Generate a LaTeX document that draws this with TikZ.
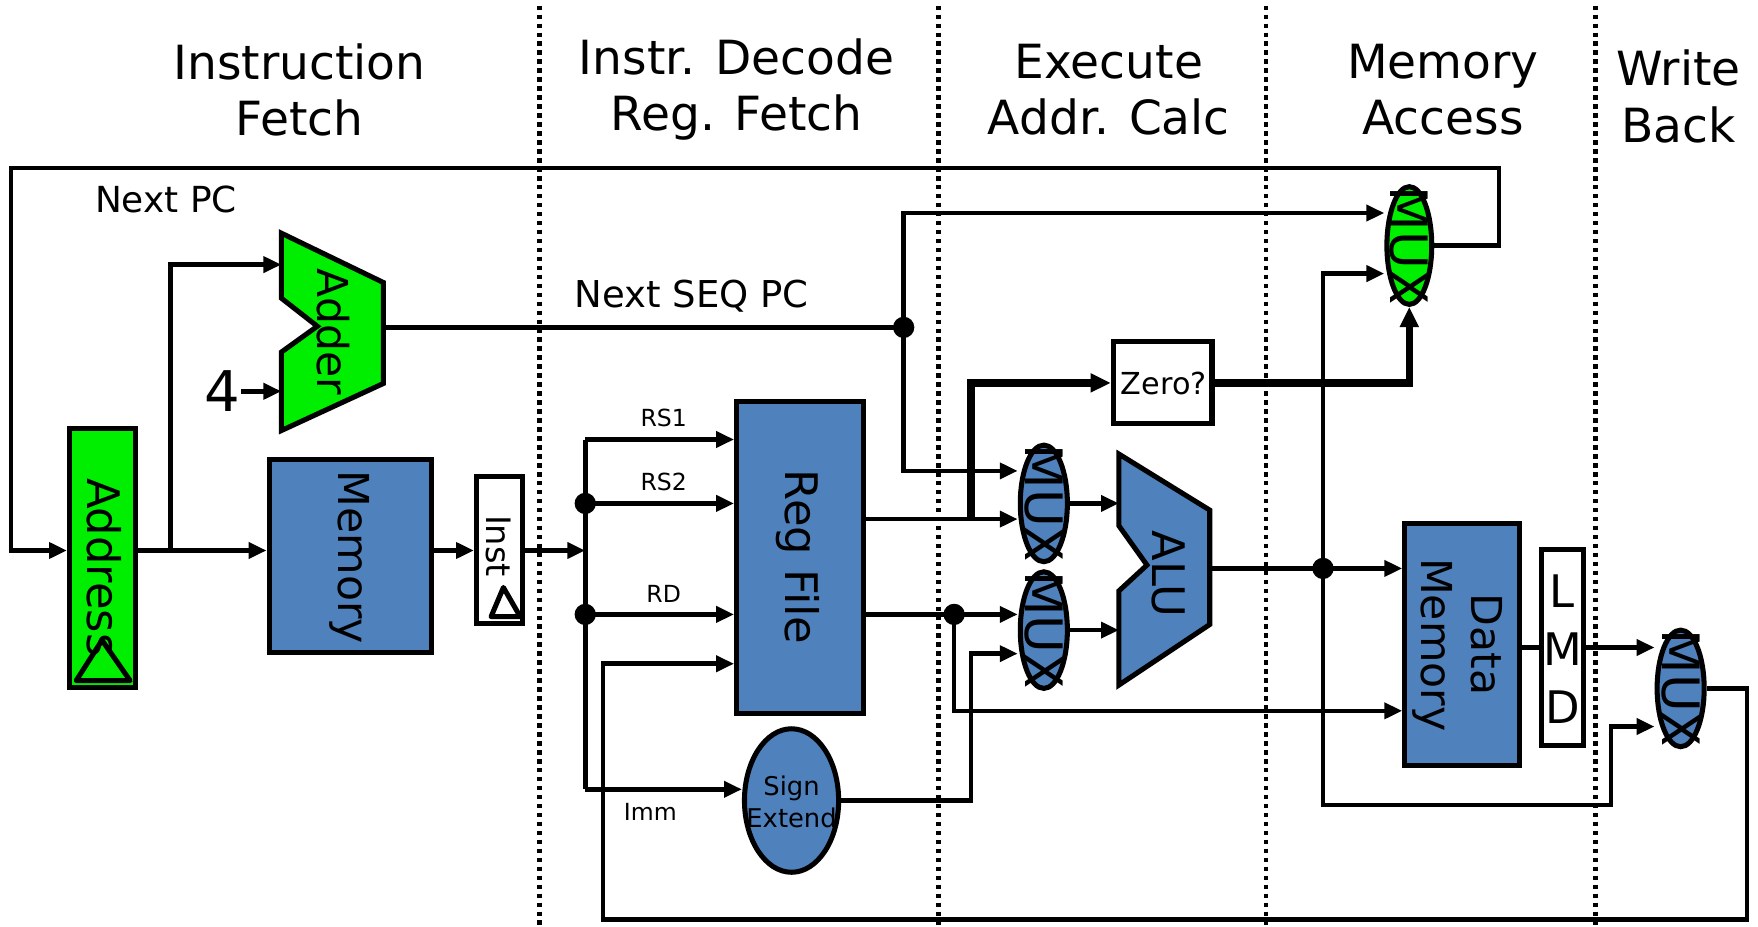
\documentclass[tikz,border=0pt]{standalone}
\usepackage{fontspec}
\setmainfont{DejaVu Sans}
\usetikzlibrary{arrows.meta,positioning,calc,shapes.geometric}
\definecolor{blockblue}{RGB}{79,129,189}
\definecolor{blockgreen}{RGB}{0,238,0}
\newcommand{\setfs}[2]{\fontsize{#1}{#2}\selectfont}

\begin{document}
\begin{tikzpicture}[x=1pt, y=-1pt,
    box/.style={draw, line width=4.5pt, fill=blockblue, inner sep=0pt},
    gbox/.style={box, fill=blockgreen},
    wbox/.style={box, fill=white},
    mux/.style={ellipse, draw, line width=4.5pt, fill=blockblue, minimum width=42pt, minimum height=104pt, inner sep=0pt},
    bshape/.style={draw, line width=4.5pt, fill=blockblue, line join=miter},
    vlabel/.style={rotate=-90, inner sep=0pt, align=center},
    wire/.style={line width=4pt},
    arr/.style={wire, -{Triangle[length=16pt, width=14pt]}},
    tarr/.style={line width=6.5pt, -{Triangle[length=18pt, width=16pt]}},
    jdot/.style={circle, fill, inner sep=0pt, minimum size=19pt},
    stage/.style={font=\setfs{42}{50}, align=center},
    sig/.style={font=\setfs{21}{24}},
    stagesep/.style={line width=4pt, dash pattern=on 4pt off 4pt},
]
    \useasboundingbox (0, 0) rectangle (1568, 826);

    % Stage separators
    \foreach \sx in {481, 837, 1129, 1423}
        \draw[stagesep] (\sx, 5) -- (\sx, 826);

    % Stage titles
    \node[stage] (t_if) at (267, 80) {Instruction\\Fetch};
    \node[stage] (t_id) at (657, 80) {Instr. Decode\\Reg. Fetch};
    \node[stage] (t_ex) at (989, 80) {Execute\\Addr. Calc};
    \node[stage] (t_mem) at (1287, 80) {Memory\\Access};
    \node[stage] (t_wb) at (1497, 86) {Write\\Back};

    % Rows used by the wires
    \coordinate (r_fetch) at (0, 491);
    \coordinate (r_seq) at (0, 190);
    \coordinate (r_alupc) at (0, 244);
    \coordinate (r_seqa) at (0, 420);
    \coordinate (r_rega) at (0, 463);
    \coordinate (r_dwr) at (0, 634);
    \coordinate (r_wb) at (0, 592);
    \coordinate (r_wb2) at (0, 648);

    % Instruction fetch
    \node[gbox, minimum width=59pt, minimum height=231pt] (addr) at (91.5, 498) {};
    \node[vlabel, font=\setfs{40}{44}] (addr_t) at (93, 506) {Address};
    \draw[line width=4.5pt, line join=round] (68, 607) -- (91, 571) -- (116, 607) -- cycle;

    \filldraw[bshape, fill=blockgreen] (251, 208) -- (342, 252) -- (342, 342) -- (251, 384)
        -- (251, 314) -- (283, 291) -- (251, 266) -- cycle;
    \node[vlabel, font=\setfs{38}{40}] (adder) at (297, 296) {Adder};
    \coordinate (add_a) at (251, 236);
    \coordinate (add_b) at (251, 349);
    \coordinate (add_o) at (342, 292);
    \node[font=\setfs{50}{50}, inner sep=1pt] (four) at (198, 349) {4};

    \node[box, minimum width=145pt, minimum height=172pt] (imem) at (312.5, 496) {};
    \node[vlabel, font=\setfs{38}{40}] (imem_t) at (312, 497) {Memory};

    \node[wbox, minimum width=41pt, minimum height=131pt] (inst) at (445.5, 490.5) {};
    \node[vlabel, font=\setfs{30}{32}] (inst_t) at (445, 487) {Inst};
    \draw[line width=4.5pt, line join=round] (438, 550) -- (449, 524) -- (464, 550) -- cycle;

    \node[font=\setfs{32}{34}] (l_npc) at (148, 178) {Next PC};

    % Decode
    \node[box, minimum width=113pt, minimum height=278pt] (regf) at (713.5, 497) {};
    \node[vlabel, font=\setfs{40}{44}] (regf_t) at (712, 497) {Reg File};
    \node[ellipse, draw, line width=4.5pt, fill=blockblue, minimum width=84pt, minimum height=128pt, inner sep=0pt] (sext) at (706, 714) {};
    \node[align=center, font=\setfs{23}{29}] (sext_t) at (706, 715) {Sign\\Extend};

    \coordinate (bus_in) at (522, 491);
    \coordinate (bus_top) at (522, 392);
    \coordinate (bus_bot) at (522, 704);
    \node[jdot] (rs2dot) at (522, 449) {};
    \node[jdot] (rddot) at (522, 548) {};
    \node[sig] (l_rs1) at (592, 373) {RS1};
    \node[sig] (l_rs2) at (592, 430) {RS2};
    \node[sig] (l_rd) at (592, 530) {RD};
    \node[sig] (l_imm) at (580, 724) {Imm};
    \node[font=\setfs{33}{35}] (l_seq) at (617, 264) {Next SEQ PC};

    % Execute
    \node[mux] (amux) at (931, 449) {};
    \node[mux] (bmux) at (931, 562) {};
    \node[vlabel, font=\setfs{46}{46}] (amux_t) at (amux.center) {MUX};
    \node[vlabel, font=\setfs{46}{46}] (bmux_t) at (bmux.center) {MUX};

    \filldraw[bshape] (998, 405) -- (1079, 455) -- (1079, 557) -- (998, 611)
        -- (998, 527) -- (1023, 504) -- (998, 469) -- cycle;
    \node[vlabel, font=\setfs{40}{44}] (alu) at (1042, 512) {ALU};
    \coordinate (alu_a) at (998, 449);
    \coordinate (alu_b) at (998, 562);
    \coordinate (alu_o) at (1079, 507);

    \node[wbox, minimum width=88pt, minimum height=73pt] (zero) at (1037, 341.5) {};
    \node[font=\setfs{27}{29}] (zero_t) at (1038, 342) {Zero?};

    % Memory access
    \node[mux, fill=blockgreen, minimum width=40pt, minimum height=105pt] (pcmux) at (1257, 219) {};
    \node[vlabel, font=\setfs{46}{46}] (pcmux_t) at (pcmux.center) {MUX};
    \node[box, minimum width=102pt, minimum height=216pt] (dmem) at (1304, 575) {};
    \node[vlabel, font=\setfs{38}{45}] (dmem_t) at (1300, 575) {Data\\Memory};
    \node[wbox, minimum width=37pt, minimum height=175pt] (lmd) at (1393.5, 577.5) {};
    \node[align=center, font=\setfs{40}{52}] (lmd_t) at (1393.5, 579) {L\\M\\D};

    % Write back
    \node[mux] (wbmux) at (1499, 614) {};
    \node[vlabel, font=\setfs{46}{46}] (wbmux_t) at (wbmux.center) {MUX};

    % Junction points of the wires
    \coordinate (pc_turn) at (1337, 150);
    \coordinate (pc_loop) at (10, 150);
    \coordinate (pc_split) at (152, 491);
    \coordinate (wb_turn) at (1558, 820);
    \coordinate (wb_loop) at (538, 820);
    \coordinate (z_split) at (866, 463);
    \coordinate (sx_turn) at (866, 583);
    \coordinate (bp_turn) at (1437, 718);
    \node[jdot] (seqdot) at (806, 292) {};
    \node[jdot] (bdot) at (851, 548) {};
    \node[jdot] (aludot) at (1180, 507) {};

    % Fetch wires
    \draw[arr] (pcmux.east) -| (pc_turn) -- (pc_loop) |- (addr.west |- r_fetch);
    \draw[arr] (addr.east |- r_fetch) -- (imem.west |- r_fetch);
    \draw[arr] (pc_split) |- (add_a);
    \draw[arr] (four.east) -- (add_b);
    \draw[arr] (imem.east |- r_fetch) -- (inst.west |- r_fetch);
    \draw[arr] (inst.east |- r_fetch) -- (bus_in);

    % Decode wires
    \draw[wire] (bus_top) -- (bus_bot);
    \draw[arr] (bus_top) -- (regf.west |- bus_top);
    \draw[arr] (rs2dot.center) -- (regf.west |- rs2dot.center);
    \draw[arr] (rddot.center) -- (regf.west |- rddot.center);
    \draw[arr] (bus_bot) -- (sext.west |- bus_bot);
    \draw[arr] (wbmux.east) -| (wb_turn) -- (wb_loop) |- (regf.west |- r_wb);
    \draw[wire] (add_o) -- (seqdot.center);

    % Execute wires
    \draw[arr] (seqdot.center) |- (pcmux.west |- r_seq);
    \draw[arr] (seqdot.center) |- (amux.west |- r_seqa);
    \draw[arr] (regf.east |- r_rega) -- (amux.west |- r_rega);
    \draw[tarr] (z_split) |- (zero.west);
    \draw[tarr] (zero.east) -| (pcmux.south);
    \draw[wire] (regf.east |- bdot.center) -- (bdot.center);
    \draw[arr] (bdot.center) -- (bmux.west |- bdot.center);
    \draw[arr] (bdot.center) |- (dmem.west |- r_dwr);
    \draw[arr] (sext.east) -| (sx_turn) -- (bmux.west |- sx_turn);
    \draw[arr] (amux.east) -- (alu_a);
    \draw[arr] (bmux.east) -- (alu_b);

    % Memory and write back wires
    \draw[wire] (alu_o) -- (aludot.center);
    \draw[arr] (aludot.center) -- (dmem.west |- aludot.center);
    \draw[arr] (aludot.center) |- (pcmux.west |- r_alupc);
    \draw[arr] (aludot.center) |- (bp_turn) |- (wbmux.west |- r_wb2);
    \draw[wire] (dmem.east |- lmd.west) -- (lmd.west);
    \draw[arr] (lmd.east) -- (wbmux.west |- lmd.east);
\end{tikzpicture}
\end{document}
